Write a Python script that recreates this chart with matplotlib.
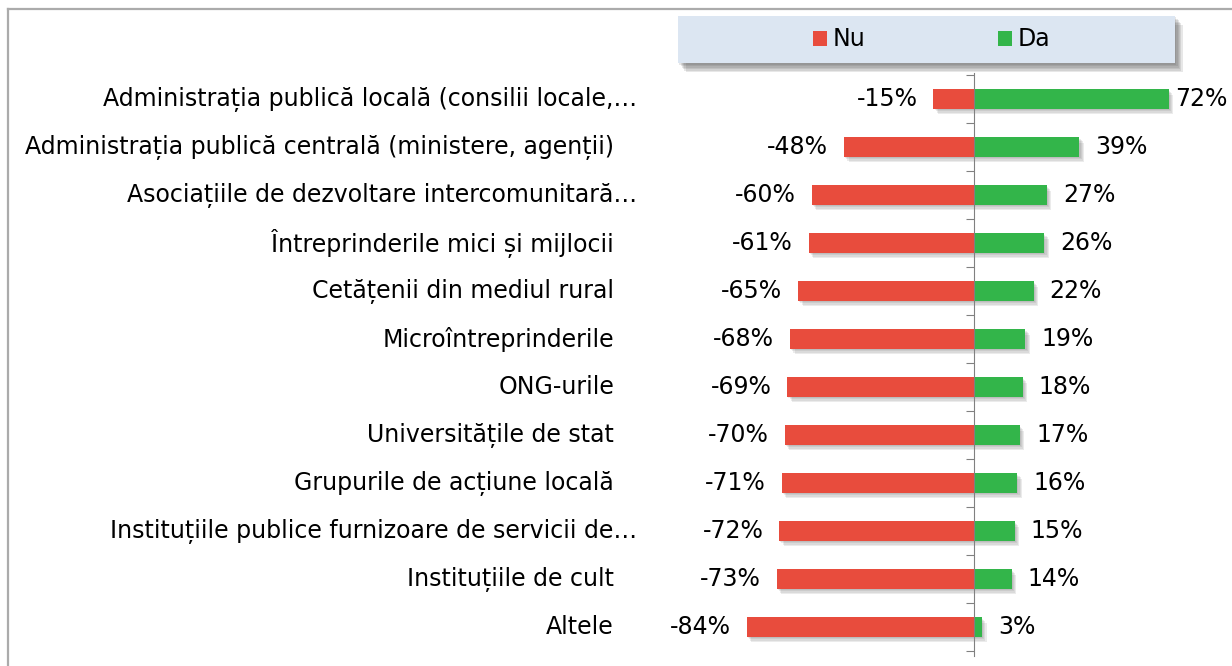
import matplotlib
matplotlib.use('Agg')
import matplotlib.pyplot as plt
import matplotlib.patheffects as pe
from matplotlib.patches import Rectangle
from matplotlib.lines import Line2D
from matplotlib.transforms import blended_transform_factory

# Date
categorii = [
    'Administrația publică locală (consilii locale,…',
    'Administrația publică centrală (ministere, agenții)',
    'Asociațiile de dezvoltare intercomunitară…',
    'Întreprinderile mici și mijlocii',
    'Cetățenii din mediul rural',
    'Microîntreprinderile',
    'ONG-urile',
    'Universitățile de stat',
    'Grupurile de acțiune locală',
    'Instituțiile publice furnizoare de servicii de…',
    'Instituțiile de cult',
    'Altele',
]
nu = [-15, -48, -60, -61, -65, -68, -69, -70, -71, -72, -73, -84]
da = [72, 39, 27, 26, 22, 19, 18, 17, 16, 15, 14, 3]

# Farben
c_nu = '#E84C3D'
c_da = '#33B54A'
c_leg = '#DCE6F2'

plt.rcParams['font.family'] = ['DejaVu Sans']
fs = 17

W, H = 1232, 666
fig = plt.figure(figsize=(W / 100, H / 100), dpi=100)
fig.patch.set_facecolor('white')


def soft_shadow(n, step, alpha, color='#606060'):
    """Weicher Schatten aus mehreren versetzten Kopien."""
    effects = [pe.SimplePatchShadow(offset=(k * step, -k * step * 1.2),
                                    shadow_rgbFace=color, alpha=alpha)
               for k in range(n, 0, -1)]
    return effects + [pe.Normal()]


# Achse: Null bei x=974 px, 2.705 px pro Prozent, Zeilen von y=75 bis y=651 px
scale = 2.705
x0 = 974
ax = fig.add_axes([0, 1 - 651 / H, 1, (651 - 75) / H])
ax.set_xlim(-x0 / scale, (W - x0) / scale)
ax.set_ylim(len(categorii) - 0.5, -0.5)
ax.set_facecolor('none')

ypos = list(range(len(categorii)))
b_nu = ax.barh(ypos, nu, height=0.4, color=c_nu, label='Nu')
b_da = ax.barh(ypos, da, height=0.4, color=c_da, label='Da')
for b in list(b_nu) + list(b_da):
    b.set_path_effects(soft_shadow(4, 0.8, 0.12))

ax.bar_label(b_nu, labels=[f'{v}%' for v in nu], padding=11.5, fontsize=fs)
# die längste Bar bekommt weniger Abstand, sonst läuft der Text aus dem Bild
ax.bar_label(b_da, labels=[''] + [f'{v}%' for v in da[1:]], padding=11.5, fontsize=fs)
ax.annotate(f'{da[0]}%', (da[0], 0), xytext=(4.5, 0), textcoords='offset points',
            ha='left', va='center', fontsize=fs)

# Spine in der Mitte
for s in ['top', 'right', 'bottom']:
    ax.spines[s].set_visible(False)
ax.spines['left'].set_position(('data', 0))
ax.spines['left'].set_color('#808080')
ax.spines['left'].set_bounds(len(categorii) - 0.4, -0.55)
ax.set_xticks([])
ax.set_yticks([i - 0.5 for i in range(len(categorii) + 1)])
ax.set_yticklabels([])
ax.tick_params(axis='y', length=6, color='#808080', direction='out')

# Kategorien-Beschriftung
tr = blended_transform_factory(ax.transAxes, ax.transData)
for i, lab in enumerate(categorii):
    if lab.endswith('…'):
        ax.annotate(lab, (614 / W, i), xycoords=tr, xytext=(17, 0),
                    textcoords='offset points', ha='right', va='center', fontsize=fs)
    else:
        ax.text(614 / W, i, lab, transform=tr, ha='right', va='center', fontsize=fs)

# Legende mit Hintergrund
leg_bg = Rectangle((678 / W, 1 - 63 / H), 497 / W, 47 / H, transform=fig.transFigure,
                   facecolor=c_leg, edgecolor='none', zorder=1)
leg_bg.set_path_effects(soft_shadow(6, 0.9, 0.12, '#404040'))
fig.add_artist(leg_bg)
leg = fig.legend(handles=[b_nu, b_da], labels=['Nu', 'Da'], loc='center left',
                 bbox_to_anchor=(813 / W, 1 - 39.5 / H), ncol=2, frameon=False,
                 fontsize=fs, handlelength=0.6, handleheight=0.6, handletextpad=0.25,
                 columnspacing=5.6, borderpad=0, borderaxespad=0)
leg.set_zorder(2)
for h in leg.legend_handles:
    h.set_path_effects([pe.Normal()])

# Rahmen oben und links
fig.add_artist(Line2D([8 / W, 1], [1 - 9 / H, 1 - 9 / H], transform=fig.transFigure, color='#ABABAB', lw=1.6))
fig.add_artist(Line2D([8 / W, 8 / W], [0, 1 - 9 / H], transform=fig.transFigure, color='#ABABAB', lw=1.6))

fig.savefig('out.png', dpi=100, facecolor='white')
